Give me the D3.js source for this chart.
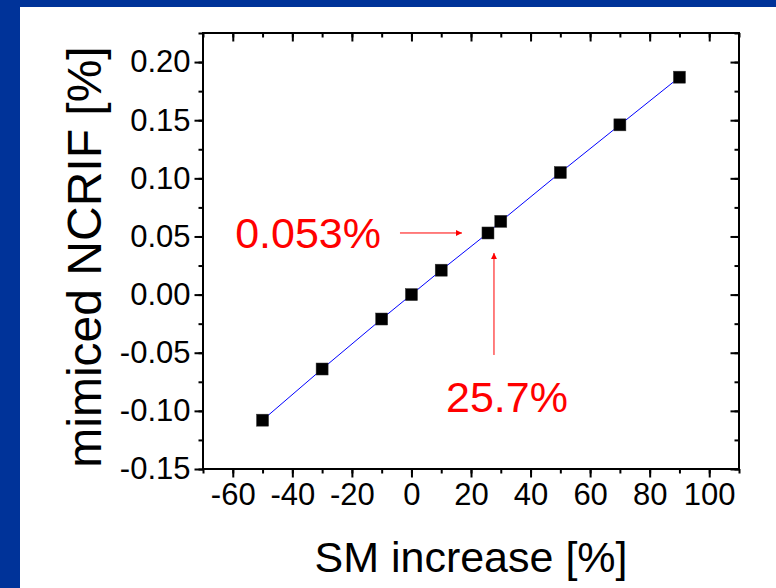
<!DOCTYPE html>
<html>
<head>
<meta charset="utf-8">
<script src="https://cdn.jsdelivr.net/npm/d3@7"></script>
<style>
  html, body { margin: 0; padding: 0; background: #ffffff; }
  svg { display: block; }
  text { font-family: Arial, "Liberation Sans", sans-serif; }
</style>
</head>
<body>
<svg id="chart" width="776" height="588"></svg>
<script>
// ---- data ----
const smIncrease = [-50, -30, -10, 0, 10, 25.7, 30, 50, 70, 90];
const ncrif      = [-0.108, -0.064, -0.021, 0.000, 0.021, 0.053, 0.063, 0.105, 0.146, 0.187];
const xTicks = [-60, -40, -20, 0, 20, 40, 60, 80, 100];
const yTicks = [-0.15, -0.10, -0.05, 0.00, 0.05, 0.10, 0.15, 0.20];
const xDomain = [-70, 110];
const yDomain = [-0.15, 0.225];
const markX = 25.7, markY = 0.053;
const markXLabel = "25.7%", markYLabel = "0.053%";
const xTitle = "SM increase [%]";
const yTitle = "mimiced NCRIF [%]";

const W = 776, H = 588;
const plot = { left: 203, right: 739, top: 33, bottom: 469 };
const svg = d3.select("#chart");

// background and blue frame
svg.append("rect").attr("width", W).attr("height", H).attr("fill", "#003399");
svg.append("rect").attr("x", 20).attr("y", 7).attr("width", W - 20).attr("height", H - 7).attr("fill", "#ffffff");

const x = d3.scaleLinear().domain(xDomain).range([plot.left, plot.right]);
const y = d3.scaleLinear().domain(yDomain).range([plot.bottom, plot.top]);

const xMinor = d3.range(xDomain[0], xDomain[1] + 0.001, 10);
const yMinor = d3.range(-0.15, 0.2251, 0.025).map(v => +v.toFixed(3));

const hy = f => v => f(v).replace("\u2212", "-");
const tickFont = 31;
const gAxes = svg.append("g");

function styleAxis(g) {
  g.select(".domain").remove();
  g.selectAll(".tick line").attr("stroke", "#000").attr("stroke-width", 2);
}

// bottom axis (outward ticks)
gAxes.append("g").attr("transform", `translate(0,${plot.bottom})`)
  .call(d3.axisBottom(x).tickValues(xMinor).tickSize(4.5).tickFormat(""))
  .call(styleAxis);
gAxes.append("g").attr("transform", `translate(0,${plot.bottom})`)
  .call(d3.axisBottom(x).tickValues(xTicks).tickSize(8.5).tickPadding(5).tickFormat(hy(d3.format("d"))))
  .call(styleAxis)
  .call(g => g.selectAll("text").attr("font-size", tickFont).attr("fill", "#000")
    .attr("font-family", "Arial, 'Liberation Sans', sans-serif").attr("dy", "0.74em"));

// top axis (inward ticks)
gAxes.append("g").attr("transform", `translate(0,${plot.top})`)
  .call(d3.axisBottom(x).tickValues(xMinor).tickSize(4.5).tickFormat(""))
  .call(styleAxis);
gAxes.append("g").attr("transform", `translate(0,${plot.top})`)
  .call(d3.axisBottom(x).tickValues(xTicks).tickSize(8.5).tickFormat(""))
  .call(styleAxis);

// left axis (outward ticks)
gAxes.append("g").attr("transform", `translate(${plot.left},0)`)
  .call(d3.axisLeft(y).tickValues(yMinor).tickSize(4.5).tickFormat(""))
  .call(styleAxis);
gAxes.append("g").attr("transform", `translate(${plot.left},0)`)
  .call(d3.axisLeft(y).tickValues(yTicks).tickSize(8.5).tickPadding(4).tickFormat(hy(d3.format(".2f"))))
  .call(styleAxis)
  .call(g => g.selectAll("text").attr("font-size", tickFont).attr("fill", "#000")
    .attr("font-family", "Arial, 'Liberation Sans', sans-serif"));

// right axis (inward ticks)
gAxes.append("g").attr("transform", `translate(${plot.right},0)`)
  .call(d3.axisLeft(y).tickValues(yMinor).tickSize(4.5).tickFormat(""))
  .call(styleAxis);
gAxes.append("g").attr("transform", `translate(${plot.right},0)`)
  .call(d3.axisLeft(y).tickValues(yTicks).tickSize(8.5).tickFormat(""))
  .call(styleAxis);

// frame
svg.append("rect")
  .attr("x", plot.left).attr("y", plot.top)
  .attr("width", plot.right - plot.left).attr("height", plot.bottom - plot.top)
  .attr("fill", "none").attr("stroke", "#000").attr("stroke-width", 2);

// data
const pts = smIncrease.map((v, i) => [v, ncrif[i]]);
svg.append("path").datum(pts)
  .attr("d", d3.line().x(d => x(d[0])).y(d => y(d[1])))
  .attr("fill", "none").attr("stroke", "#0000ff").attr("stroke-width", 1);

const ms = 12;
svg.append("g").selectAll("rect").data(pts).join("rect")
  .attr("x", d => x(d[0]) - ms / 2).attr("y", d => y(d[1]) - ms / 2)
  .attr("width", ms).attr("height", ms)
  .attr("fill", "#000").attr("stroke", "#333").attr("stroke-width", 0.5);

// annotations
const defs = svg.append("defs");
defs.append("marker").attr("id", "arr").attr("viewBox", "0 0 10 10")
  .attr("refX", 10).attr("refY", 5).attr("markerWidth", 9).attr("markerHeight", 6)
  .attr("markerUnits", "userSpaceOnUse").attr("orient", "auto")
  .append("path").attr("d", "M0,0 L10,5 L0,10 Z").attr("fill", "#ff0000");

const px = x(markX), py = y(markY);
svg.append("line")
  .attr("x1", px - 88).attr("y1", py).attr("x2", px - 26).attr("y2", py)
  .attr("stroke", "#ff0000").attr("stroke-width", 1).attr("marker-end", "url(#arr)");
svg.append("line")
  .attr("x1", px + 6).attr("y1", py + 122).attr("x2", px + 6).attr("y2", py + 20)
  .attr("stroke", "#ff0000").attr("stroke-width", 1).attr("marker-end", "url(#arr)");

svg.append("text").attr("x", px - 107).attr("y", py + 15)
  .attr("text-anchor", "end").attr("font-size", 43).attr("fill", "#ff0000").text(markYLabel);
svg.append("text").attr("x", px + 19).attr("y", py + 179)
  .attr("text-anchor", "middle").attr("font-size", 43).attr("fill", "#ff0000").text(markXLabel);

// axis titles
svg.append("text").attr("x", (plot.left + plot.right) / 2).attr("y", 572)
  .attr("text-anchor", "middle").attr("font-size", 43).attr("fill", "#000").text(xTitle);
svg.append("text").attr("transform", `translate(101,${(plot.top + plot.bottom) / 2 + 6}) rotate(-90)`)
  .attr("text-anchor", "middle").attr("font-size", 48).attr("fill", "#000").text(yTitle);
</script>
</body>
</html>
